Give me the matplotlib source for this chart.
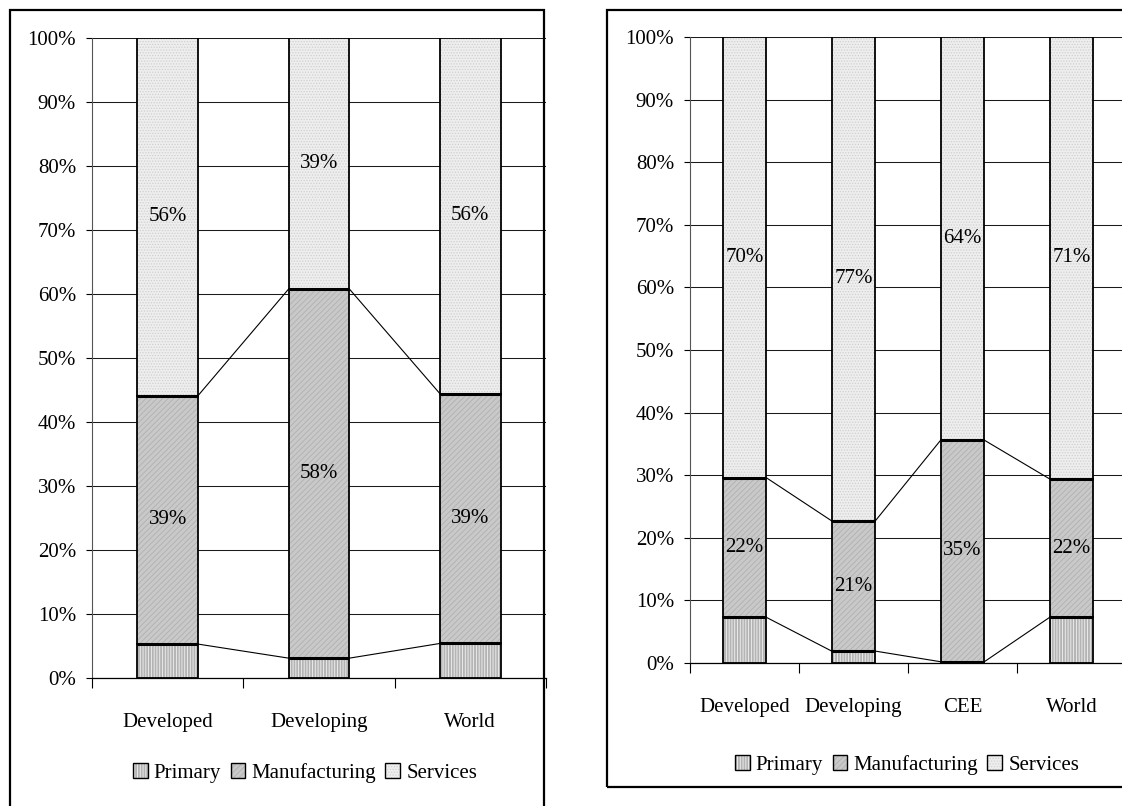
import numpy as np
import matplotlib
matplotlib.use("Agg")
import matplotlib.pyplot as plt
from matplotlib.patches import Patch, Rectangle
from matplotlib.legend_handler import HandlerTuple

plt.rcParams['font.family'] = ['Liberation Serif', 'DejaVu Serif']
plt.rcParams['hatch.linewidth'] = 0.6

# shares of each sector, in percent
series = ["Primary", "Manufacturing", "Services"]

left_cats = ["Developed", "Developing", "World"]
left_primary = [5.3, 3.1, 5.4]
left_manuf = [38.8, 57.7, 39.0]
left_services = [55.9, 39.2, 55.6]

right_cats = ["Developed", "Developing", "CEE", "World"]
right_primary = [7.3, 1.9, 0.2, 7.3]
right_manuf = [22.3, 20.8, 35.4, 22.1]
right_services = [70.4, 77.3, 64.4, 70.6]

# face colour, hatch colour, hatch pattern per series
styles = [
    ("#b4b4b4", "#f2f2f2", "||||||"),
    ("#c9c9c9", "#b0b0b0", "//////"),
    ("#eeeeee", "#d0d0d0", "......"),
]
FS = 15


def draw_panel(ax, cats, values, labelled):
    x = np.arange(len(cats))
    w = 0.4
    bottom = np.zeros(len(cats))
    tops = []
    for k, vals in enumerate(values):
        vals = np.asarray(vals, dtype=float)
        fc, hc, hatch = styles[k]
        ax.bar(x, vals, w, bottom=bottom, color=fc, edgecolor=hc,
               hatch=hatch, linewidth=0, zorder=2)
        ax.bar(x, vals, w, bottom=bottom, fill=False, edgecolor="black",
               linewidth=1.3, zorder=3)
        if k in labelled:
            for xi, b, v in zip(x, bottom, vals):
                ax.text(xi, b + v / 2, f"{v:.0f}%", ha="center", va="center",
                        fontsize=FS, zorder=5)
        bottom = bottom + vals
        tops.append(bottom.copy())

    # thick boundaries and series lines between neighbouring bars
    for t in tops[:-1]:
        ax.hlines(t, x - w / 2, x + w / 2, colors="black", linewidth=2.2,
                  zorder=4)
        for i in range(len(cats) - 1):
            ax.plot([x[i] + w / 2, x[i + 1] - w / 2], [t[i], t[i + 1]],
                    color="black", linewidth=0.8, zorder=4)

    ax.set_xlim(-0.5, len(cats) - 0.5)
    ax.set_ylim(0, 100)
    ax.set_yticks(np.arange(0, 101, 10))
    ax.set_yticklabels([f"{v}%" for v in range(0, 101, 10)], fontsize=FS)
    ax.yaxis.grid(True, color="#1a1a1a", linewidth=0.75, zorder=0)
    ax.set_axisbelow(True)
    ax.set_xticks(x)
    ax.set_xticklabels(cats, fontsize=FS)
    ax.set_xticks(np.arange(-0.5, len(cats), 1.0), minor=True)
    ax.tick_params(axis="x", which="major", length=0, pad=25)
    ax.tick_params(axis="x", which="minor", length=7, width=0.8,
                   direction="out")
    ax.tick_params(axis="y", length=4.5, width=0.8, direction="out", pad=7)
    for s in ("top", "right"):
        ax.spines[s].set_visible(False)
    ax.spines["left"].set_color("#555555")
    ax.spines["left"].set_linewidth(0.8)
    ax.spines["bottom"].set_linewidth(0.9)


fig = plt.figure(figsize=(11.22, 8.06), dpi=100)
ax1 = fig.add_axes([92 / 1122, 1 - 678 / 806, 454 / 1122, 640 / 806])
ax2 = fig.add_axes([690 / 1122, 1 - 663 / 806, 436 / 1122, 626 / 806])

draw_panel(ax1, left_cats, [left_primary, left_manuf, left_services], (1, 2))
draw_panel(ax2, right_cats, [right_primary, right_manuf, right_services],
           (1, 2))

handles = []
for fc, hc, hatch in styles:
    handles.append((Patch(facecolor=fc, edgecolor=hc, hatch=hatch, linewidth=0),
                    Patch(fill=False, edgecolor="black", linewidth=1.0)))

for cx, cy in ((305 / 1122, 1 - 773 / 806), (907 / 1122, 1 - 765 / 806)):
    fig.legend(handles, series, loc="center", bbox_to_anchor=(cx, cy),
               ncol=3, frameon=False, fontsize=FS,
               handler_map={tuple: HandlerTuple(ndivide=1)},
               handlelength=0.7, handleheight=0.7, handletextpad=0.3,
               columnspacing=0.45, borderpad=0)

# frames round each chart
fig.add_artist(Rectangle((10 / 1122, -0.05), 534 / 1122, 1.05 - 10 / 806,
                         transform=fig.transFigure, fill=False,
                         edgecolor="black", linewidth=1.6, clip_on=False))
fig.add_artist(Rectangle((607 / 1122, 1 - 787 / 806), 0.5,
                         (787 - 10) / 806, transform=fig.transFigure,
                         fill=False, edgecolor="black", linewidth=1.6,
                         clip_on=False))

fig.savefig("out.png", dpi=100)
